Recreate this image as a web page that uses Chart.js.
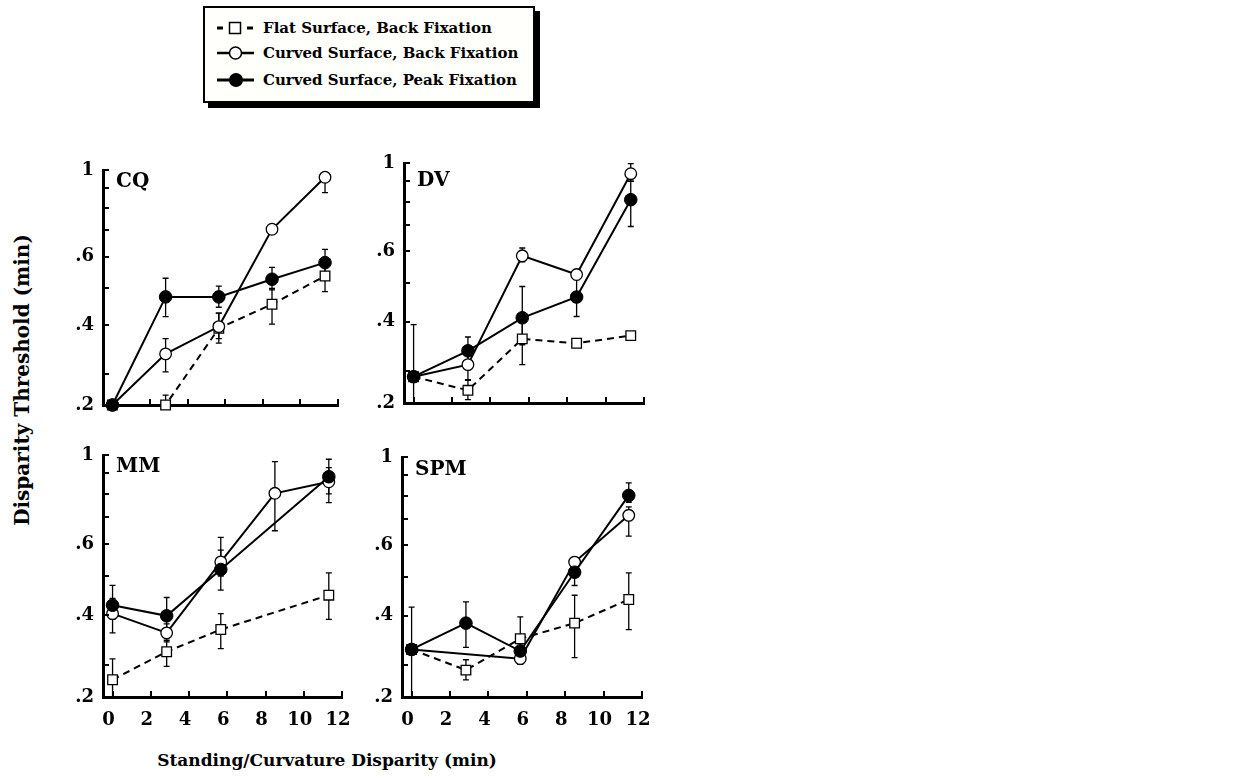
<!DOCTYPE html>
<html>
<head>
<meta charset="utf-8">
<script src="https://cdn.jsdelivr.net/npm/chart.js@4.4.1/dist/chart.umd.min.js"></script>
<style>
body { margin:0; background:#fff; width:1252px; height:778px; overflow:hidden; position:relative;
       font-family:"DejaVu Serif", serif; font-weight:bold; color:#000; }
canvas { position:absolute; }
.legend { position:absolute; left:203px; top:6px; width:328px; height:93px; border:2px solid #000;
          box-shadow:5px 5px 0 #000; background:#fffffb; }
.row { position:absolute; left:12px; height:20px; display:flex; align-items:center; font-size:15px; white-space:nowrap; }
.row svg { margin-right:8px; }
.ttl { position:absolute; white-space:nowrap; font-size:17px; transform:translate(-50%,-50%); }
</style>
</head>
<body>

<div class="legend">
  <div class="row" style="top:10px">
    <svg width="38" height="20"><line x1="0" y1="10" x2="6" y2="10" stroke="#000" stroke-width="3"/><rect x="12.5" y="4.5" width="11" height="11" fill="#fff" stroke="#000" stroke-width="1.5"/><line x1="30" y1="10" x2="36" y2="10" stroke="#000" stroke-width="3"/></svg>
    Flat Surface, Back Fixation</div>
  <div class="row" style="top:35px">
    <svg width="38" height="20"><line x1="0" y1="10" x2="37" y2="10" stroke="#000" stroke-width="2.5"/><circle cx="18.5" cy="10" r="6" fill="#fff" stroke="#000" stroke-width="1.5"/></svg>
    Curved Surface, Back Fixation</div>
  <div class="row" style="top:62px">
    <svg width="38" height="20"><line x1="0" y1="10" x2="37" y2="10" stroke="#000" stroke-width="3"/><circle cx="19" cy="10" r="7" fill="#000"/></svg>
    Curved Surface, Peak Fixation</div>
</div>

<canvas id="cq"></canvas>
<canvas id="dv"></canvas>
<canvas id="mm"></canvas>
<canvas id="spm"></canvas>

<div class="ttl" style="left:22px; top:380px; font-size:20px; transform:translate(-50%,-50%) rotate(-90deg);">Disparity Threshold (min)</div>
<div class="ttl" style="left:327px; top:760px;">Standing/Curvature Disparity (min)</div>

<script>
// standing / curvature disparity (min)
const xValues = [0, 2.83, 5.66, 8.49, 11.31];
const xTicks = [0, 2, 4, 6, 8, 10, 12];
// log axis; bottom of the axis is labelled ".2" in the original figure
const yTicks = [0.25, 0.3, 0.4, 0.5, 0.6, 0.7, 0.8, 0.9, 1];
const yTickLabels = ['.2', '', '.4', '', '.6', '', '', '', '1'];

// CQ
const cqFlat = [0.25, 0.25, 0.393, 0.453, 0.535];
const cqFlatErr = [null, [0.25, 0.265], [0.36, 0.43], [0.403, 0.497], [0.488, 0.575]];
const cqBack = [0.25, 0.338, 0.397, 0.705, 0.958];
const cqBackErr = [null, [0.304, 0.37], [0.37, 0.43], null, [0.875, 0.98]];
const cqPeak = [0.25, 0.473, 0.473, 0.525, 0.579];
const cqPeakErr = [null, [0.421, 0.528], [0.445, 0.504], [0.493, 0.563], [0.545, 0.626]];

// DV
const dvFlat = [0.291, 0.269, 0.362, 0.353, 0.369];
const dvFlatErr = [null, [0.255, 0.285], [0.312, 0.40], null, null];
const dvBack = [0.291, 0.312, 0.585, 0.525, 0.940];
const dvBackErr = [null, [0.286, 0.34], [0.565, 0.612], null, [0.90, 0.996]];
const dvPeak = [0.291, 0.338, 0.409, 0.461, 0.809];
const dvPeakErr = [[0.25, 0.393], [0.31, 0.366], [0.35, 0.49], [0.412, 0.51], [0.693, 0.9]];

// MM
const mmFlat = [0.276, 0.324, 0.368, null, 0.448];
const mmFlatErr = [[0.25, 0.311], [0.298, 0.346], [0.33, 0.403], null, [0.39, 0.509]];
const mmBack = [0.403, 0.361, 0.542, 0.803, 0.858];
const mmBackErr = [[0.361, 0.44], [0.343, 0.38], [0.50, 0.624], [0.648, 0.963], [0.761, 0.93]];
const mmPeak = [0.423, 0.398, 0.519, null, 0.883];
const mmPeakErr = [[0.39, 0.474], [0.37, 0.442], [0.461, 0.58], null, [0.80, 0.976]];

// SPM
const spmFlat = [0.329, 0.292, 0.350, 0.383, 0.439];
const spmFlatErr = [null, [0.276, 0.31], [0.33, 0.397], [0.314, 0.45], [0.369, 0.512]];
const spmBack = [0.329, null, 0.312, 0.545, 0.714];
const spmBackErr = [null, null, [0.302, 0.33], [0.52, 0.561], [0.633, 0.75]];
const spmPeak = [0.329, 0.383, 0.326, 0.514, 0.801];
const spmPeakErr = [[0.25, 0.42], [0.333, 0.433], [0.31, 0.34], [0.476, 0.54], [0.77, 0.861]];

const FONT = '"DejaVu Serif", serif';

function pts(ys){
    return xValues.map((x, i) => ({x: x, y: ys[i]}))
}

const inwardTicks = {
    id: 'inwardTicks',
    afterDraw(chart){
        const c = chart.ctx, a = chart.chartArea
        const sx = chart.scales.x, sy = chart.scales.y
        c.save()
        c.strokeStyle = '#000'
        c.lineWidth = 2
        c.beginPath()
        yTicks.forEach(v => {
            const p = Math.round(sy.getPixelForValue(v))
            c.moveTo(a.left, p); c.lineTo(a.left + 6, p)
        })
        xTicks.forEach(v => {
            const p = Math.round(sx.getPixelForValue(v))
            c.moveTo(p, a.bottom); c.lineTo(p, a.bottom - 6)
        })
        c.stroke()
        c.restore()
    }
}

const errorBars = {
    id: 'errorBars',
    beforeDatasetsDraw(chart){
        const c = chart.ctx, sy = chart.scales.y
        c.save()
        c.strokeStyle = '#000'
        c.lineWidth = 1.3
        chart.data.datasets.forEach((ds, i) => {
            const meta = chart.getDatasetMeta(i)
            ds.errorBars.forEach((e, j) => {
                if (!e) return
                const x = meta.data[j].x
                const y1 = sy.getPixelForValue(e[0]), y2 = sy.getPixelForValue(e[1])
                c.beginPath()
                c.moveTo(x, y1); c.lineTo(x, y2)
                c.moveTo(x - 3, y1); c.lineTo(x + 3, y1)
                c.moveTo(x - 3, y2); c.lineTo(x + 3, y2)
                c.stroke()
            })
        })
        c.restore()
    }
}

const panelTitle = {
    id: 'panelTitle',
    afterDraw(chart, args, opts){
        const c = chart.ctx, a = chart.chartArea
        c.save()
        c.fillStyle = '#000'
        c.font = 'bold 20px ' + FONT
        c.textBaseline = 'middle'
        c.fillText(opts.text, a.left + opts.dx, a.top + opts.dy)
        c.restore()
    }
}

function makePanel(docID, box, title, titleDy, flat, flatErr, back, backErr, peak, peakErr, showX){
    const yW = 50, padTop = 14, padRight = 20
    // room under the axis also takes the overhang of the ".2" label
    const xH = showX ? 42 : 16
    const cv = document.getElementById(docID)
    cv.width = Math.round(box.r - box.l + yW + padRight)
    cv.height = Math.round(box.b - box.t + padTop + xH)
    cv.style.left = (box.l - yW) + 'px'
    cv.style.top = (box.t - padTop) + 'px'

    new Chart(cv, {
        type: 'line',
        data: {
            datasets: [{
                label: 'Curved Surface, Peak Fixation',
                data: pts(peak),
                errorBars: peakErr,
                borderColor: '#000',
                borderWidth: 2,
                pointStyle: 'circle',
                pointRadius: 6.3,
                pointBackgroundColor: '#000',
                pointBorderColor: '#000',
                pointBorderWidth: 1,
                spanGaps: true,
                clip: false
            }, {
                label: 'Curved Surface, Back Fixation',
                data: pts(back),
                errorBars: backErr,
                borderColor: '#000',
                borderWidth: 2,
                pointStyle: 'circle',
                pointRadius: 5.8,
                pointBackgroundColor: '#fff',
                pointBorderColor: '#000',
                pointBorderWidth: 1.3,
                spanGaps: true,
                clip: false
            }, {
                label: 'Flat Surface, Back Fixation',
                data: pts(flat),
                errorBars: flatErr,
                borderColor: '#000',
                borderWidth: 2,
                borderDash: [7, 5],
                pointStyle: 'rect',
                pointRadius: 6.8,
                pointBackgroundColor: '#fff',
                pointBorderColor: '#000',
                pointBorderWidth: 1.3,
                spanGaps: true,
                clip: false
            }]
        },
        options: {
            responsive: false,
            animation: false,
            devicePixelRatio: 1,
            layout: { padding: { top: padTop, right: padRight, left: 0, bottom: 0 } },
            plugins: {
                legend: { display: false },
                tooltip: { enabled: false },
                panelTitle: { text: title, dx: 13, dy: titleDy }
            },
            scales: {
                x: {
                    type: 'linear',
                    min: -0.5,
                    max: 12,
                    afterBuildTicks: s => { s.ticks = xTicks.map(v => ({value: v})) },
                    afterFit: s => { s.height = xH },
                    grid: { display: false },
                    border: { display: true, color: '#000', width: 3 },
                    ticks: {
                        display: showX,
                        autoSkip: false,
                        maxRotation: 0,
                        padding: 5,
                        labelOffset: -4,
                        color: '#000',
                        font: { family: FONT, size: 18, weight: 'bold' }
                    }
                },
                y: {
                    type: 'logarithmic',
                    min: 0.25,
                    max: 1,
                    afterBuildTicks: s => { s.ticks = yTicks.map(v => ({value: v})) },
                    afterFit: s => { s.width = yW },
                    grid: { display: false },
                    border: { display: true, color: '#000', width: 3 },
                    ticks: {
                        autoSkip: false,
                        padding: 1,
                        color: '#000',
                        font: { family: FONT, size: 18, weight: 'bold' },
                        callback: (v, i) => yTickLabels[i]
                    }
                }
            }
        },
        plugins: [errorBars, inwardTicks, panelTitle]
    });
}

makePanel('cq', {l: 103, r: 337.5, t: 170, b: 405}, 'CQ', 12, cqFlat, cqFlatErr, cqBack, cqBackErr, cqPeak, cqPeakErr, false)
makePanel('dv', {l: 404, r: 644, t: 163, b: 403}, 'DV', 18, dvFlat, dvFlatErr, dvBack, dvBackErr, dvPeak, dvPeakErr, false)
makePanel('mm', {l: 103, r: 342, t: 455, b: 697}, 'MM', 12, mmFlat, mmFlatErr, mmBack, mmBackErr, mmPeak, mmPeakErr, true)
makePanel('spm', {l: 402, r: 642, t: 457, b: 697}, 'SPM', 13, spmFlat, spmFlatErr, spmBack, spmBackErr, spmPeak, spmPeakErr, true)
</script>
</body>
</html>
